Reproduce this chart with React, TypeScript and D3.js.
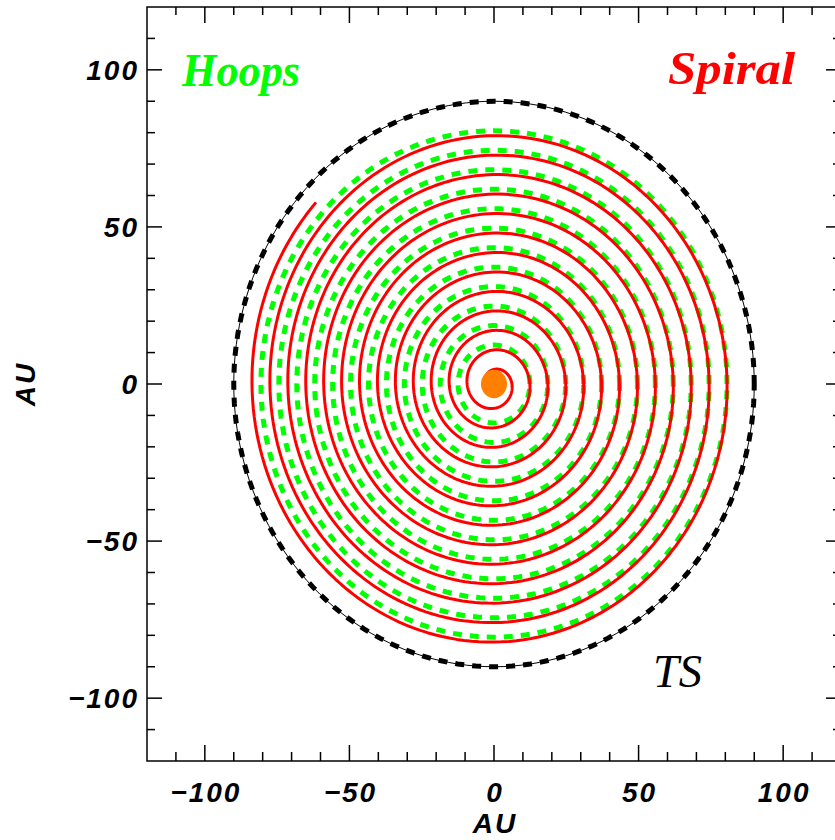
import React from 'react';
import * as d3 from 'd3';

// axis ticks (AU)
const majorTicks = [-100, -50, 0, 50, 100];
const tickLabels = ['\u2212100', '\u221250', '0', '50', '100'];
const minorTicks = [-110, -90, -80, -70, -60, -40, -30, -20, -10, 10, 20, 30, 40, 60, 70, 80, 90, 110];

// green hoops, radii read where they cross +x axis (AU)
const hoopRadii = [12.4, 18.6, 24.8, 31.0, 37.2, 43.4, 49.6, 55.8, 62.0, 68.2, 74.4, 80.6];
// red spiral: radial step per turn (AU) and first/last turn
const spiralPitch = 6.2;
const spiralTurns = [0.55, 13.62];
// termination shock and sun
const tsRadius = 90;
const sunRadius = 4.5;

const W = 835;
const H = 840;

const App = () => {
  const x = d3.scaleLinear().domain([-120, 120]).range([147, 841]);
  const y = d3.scaleLinear().domain([-120, 120]).range([761, 7]);

  const ring = (r: number) => {
    const pts = d3.range(0, 361, 2).map((a) => [r * Math.cos((a * Math.PI) / 180), r * Math.sin((a * Math.PI) / 180)]);
    return d3.line<number[]>().x((d) => x(d[0])).y((d) => y(d[1]))(pts) as string;
  };

  const spiralPts = d3.range(spiralTurns[0], spiralTurns[1], 0.005).concat([spiralTurns[1]]).map((t) => {
    const r = spiralPitch * t;
    const phi = -2 * Math.PI * t;
    return [r * Math.cos(phi), r * Math.sin(phi)];
  });
  const spiralPath = d3.line<number[]>().x((d) => x(d[0])).y((d) => y(d[1]))(spiralPts) as string;

  const x0 = x.range()[0], x1 = x.range()[1];
  const y0 = y.range()[1], y1 = y.range()[0];
  const tickFont = { fontFamily: '"Liberation Sans", Arial, sans-serif', fontWeight: 'bold' as const, fontStyle: 'italic' as const, fontSize: 28, letterSpacing: 2 };
  const titleFont = { fontFamily: '"Liberation Serif", "Times New Roman", serif', fontStyle: 'italic' as const, fontSize: 46 };

  return (
    <svg width={W} height={H} style={{ position: 'absolute', left: 0, top: 0, display: 'block', background: '#fff' }}>
      {/* hoops */}
      {hoopRadii.map((r) => (
        <path key={r} d={ring(r)} fill="none" stroke="#00ff00" strokeWidth={5} strokeDasharray="9 8" />
      ))}
      {/* spiral */}
      <path d={spiralPath} fill="none" stroke="#ff0000" strokeWidth={3} strokeLinejoin="round" />
      {/* termination shock */}
      <path d={ring(tsRadius)} fill="none" stroke="#000" strokeWidth={1} />
      <path d={ring(tsRadius)} fill="none" stroke="#000" strokeWidth={5} strokeDasharray="9 8" />
      {/* sun */}
      <ellipse cx={x(0)} cy={y(0)} rx={x(sunRadius) - x(0)} ry={y(0) - y(sunRadius)} fill="#ff8000" />

      {/* frame */}
      <rect x={x0} y={y0} width={x1 - x0} height={y1 - y0} fill="none" stroke="#000" strokeWidth={1.5} />
      {majorTicks.map((v) => (
        <g key={'M' + v} stroke="#000" strokeWidth={1.5}>
          <line x1={x(v)} x2={x(v)} y1={y1} y2={y1 - 16} />
          <line x1={x(v)} x2={x(v)} y1={y0} y2={y0 + 16} />
          <line x1={x0} x2={x0 + 15} y1={y(v)} y2={y(v)} />
          <line x1={x1} x2={x1 - 15} y1={y(v)} y2={y(v)} />
        </g>
      ))}
      {minorTicks.map((v) => (
        <g key={'m' + v} stroke="#000" strokeWidth={1.5}>
          <line x1={x(v)} x2={x(v)} y1={y1} y2={y1 - 9} />
          <line x1={x(v)} x2={x(v)} y1={y0} y2={y0 + 8} />
          <line x1={x0} x2={x0 + 8} y1={y(v)} y2={y(v)} />
          <line x1={x1} x2={x1 - 8} y1={y(v)} y2={y(v)} />
        </g>
      ))}
      {majorTicks.map((v, i) => (
        <text key={'xl' + v} x={x(v) + 1} y={802} textAnchor="middle" {...tickFont}>
          {tickLabels[i]}
        </text>
      ))}
      {majorTicks.map((v, i) => (
        <text key={'yl' + v} x={139} y={y(v) + 10} textAnchor="end" {...tickFont}>
          {tickLabels[i]}
        </text>
      ))}
      <text x={x(0) + 1} y={833} textAnchor="middle" {...tickFont}>AU</text>
      <text transform={`translate(35,${y(0)}) rotate(-90)`} textAnchor="middle" {...tickFont}>AU</text>

      <text x={182} y={86} fill="#00ff00" fontWeight="bold" textLength={118} lengthAdjust="spacingAndGlyphs" {...titleFont}>Hoops</text>
      <text x={668} y={84} fill="#ff0000" fontWeight="bold" textLength={127} lengthAdjust="spacingAndGlyphs" {...titleFont}>Spiral</text>
      <text x={653} y={687} fill="#000" textLength={49} lengthAdjust="spacingAndGlyphs" {...titleFont}>TS</text>
    </svg>
  );
};

export default App;
